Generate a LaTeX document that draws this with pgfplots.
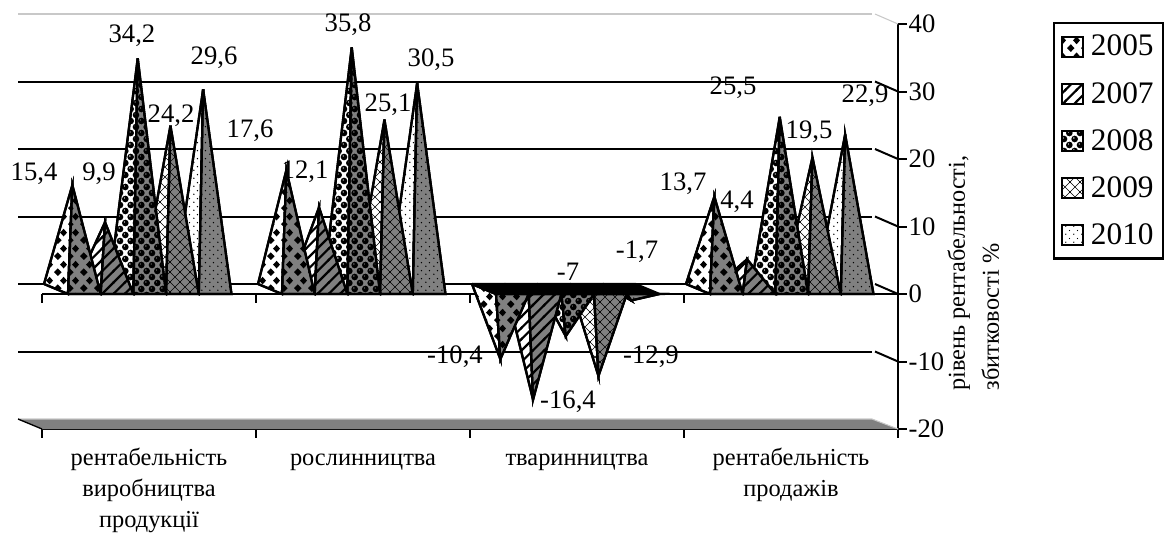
\documentclass[border=0pt]{standalone}
\usepackage{fontspec}
\setmainfont{Liberation Serif}
\usepackage{pgfplots}
\pgfplotsset{compat=1.18}
\usetikzlibrary{patterns}

% hatchings of the five years
\pgfdeclarepatternformonly{p2005}{\pgfqpoint{0pt}{0pt}}{\pgfqpoint{10pt}{12pt}}{\pgfqpoint{10pt}{12pt}}{%
  \pgfpathmoveto{\pgfqpoint{0pt}{3pt}}\pgfpathlineto{\pgfqpoint{2.9pt}{6pt}}\pgfpathlineto{\pgfqpoint{5.8pt}{3pt}}\pgfpathlineto{\pgfqpoint{2.9pt}{0pt}}\pgfpathclose
  \pgfpathmoveto{\pgfqpoint{4.6pt}{9pt}}\pgfpathlineto{\pgfqpoint{7.4pt}{12pt}}\pgfpathlineto{\pgfqpoint{10pt}{9pt}}\pgfpathlineto{\pgfqpoint{7.4pt}{6pt}}\pgfpathclose
  \pgfusepath{fill}}
\pgfdeclarepatternformonly{p2007}{\pgfqpoint{-1pt}{-1pt}}{\pgfqpoint{9.5pt}{9.5pt}}{\pgfqpoint{8.5pt}{8.5pt}}{%
  \pgfsetlinewidth{1.6pt}
  \pgfpathmoveto{\pgfqpoint{-1pt}{-1pt}}\pgfpathlineto{\pgfqpoint{9.5pt}{9.5pt}}\pgfusepath{stroke}}
\pgfdeclarepatternformonly{p2008}{\pgfqpoint{-1pt}{-1pt}}{\pgfqpoint{9pt}{10pt}}{\pgfqpoint{8pt}{9pt}}{%
  \pgfseteorule
  \pgfpathcircle{\pgfqpoint{2pt}{2.25pt}}{2.5pt}
  \pgfpathcircle{\pgfqpoint{1.4pt}{3pt}}{0.7pt}
  \pgfpathcircle{\pgfqpoint{6pt}{6.75pt}}{2.5pt}
  \pgfpathcircle{\pgfqpoint{5.4pt}{7.5pt}}{0.7pt}\pgfusepath{fill}}
\pgfdeclarepatternformonly{p2009}{\pgfqpoint{-0.5pt}{-0.5pt}}{\pgfqpoint{8pt}{8pt}}{\pgfqpoint{7.5pt}{7.5pt}}{%
  \pgfsetlinewidth{0.5pt}
  \pgfpathmoveto{\pgfqpoint{-0.5pt}{-0.5pt}}\pgfpathlineto{\pgfqpoint{8pt}{8pt}}
  \pgfpathmoveto{\pgfqpoint{-0.5pt}{8pt}}\pgfpathlineto{\pgfqpoint{8pt}{-0.5pt}}\pgfusepath{stroke}}
\pgfdeclarepatternformonly{p2010}{\pgfqpoint{0pt}{0pt}}{\pgfqpoint{6pt}{6pt}}{\pgfqpoint{6pt}{6pt}}{%
  \pgfpathcircle{\pgfqpoint{1.5pt}{1.5pt}}{0.6pt}
  \pgfpathcircle{\pgfqpoint{4.5pt}{4.5pt}}{0.6pt}\pgfusepath{fill}}

\definecolor{facegray}{HTML}{808080}
\definecolor{wallgray}{HTML}{C8C8C8}

% one pyramid: category, slot in the group, value, hatching
\newcommand{\pyr}[4]{%
  \pgfmathsetmacro\fl{#1+(26+32.7*#2)/214}%
  \pgfmathsetmacro\fr{\fl+32.7/214}%
  \pgfmathsetmacro\bl{\fl-24/214}%
  \pgfmathsetmacro\br{\fr-24/214}%
  \pgfmathsetmacro\ax{\fl+4.35/214}%
  \pgfmathsetmacro\ay{#3+5/6.75}%
  \addplot[edge,fill=white,postaction={pattern=#4}] coordinates {(\bl,1.48)(\fl,0)(\ax,\ay)(\bl,1.48)};
  \addplot[edge,fill=facegray,postaction={pattern=#4}] coordinates {(\fl,0)(\fr,0)(\ax,\ay)(\fl,0)};
}
% the black top of a pyramid that hangs below zero
\newcommand{\topface}[2]{%
  \pgfmathsetmacro\fl{#1+(26+32.7*#2)/214}%
  \pgfmathsetmacro\fr{\fl+32.7/214}%
  \pgfmathsetmacro\bl{\fl-24/214}%
  \pgfmathsetmacro\br{\fr-24/214}%
  \addplot[edge,fill=black] coordinates {(\bl,1.48)(\br,1.48)(\fr,0)(\fl,0)(\bl,1.48)};
}
% data label, placed by its centre in pixels of the reference
\newcommand{\lab}[3]{%
  \pgfmathsetmacro\lx{(#1-42)/214}%
  \pgfmathsetmacro\ly{(429-#2)/6.75-20}%
  \edef\tmp{\noexpand\node[font=\noexpand\fontsize{20}{20}\noexpand\selectfont,inner sep=0pt] at (axis cs:\lx,\ly) {#3};}\tmp
}
% gridline on the back wall and its slanted end on the side wall
\newcommand{\wall}[2]{%
  \pgfmathsetmacro\wy{#1+1.48}%
  \edef\tmp{\noexpand\draw[#2] (axis cs:-0.1121,\wy) -- (axis cs:3.8785,\wy);
    \noexpand\draw[#2] (axis cs:3.8925,\wy) -- (axis cs:4,#1);}\tmp
}

\begin{document}
\begin{tikzpicture}
\path[use as bounding box] (-31.5pt,-77.25pt) rectangle (846pt,321.75pt);
\begin{axis}[
  at={(0pt,0pt)}, anchor=south west,
  scale only axis, width=642pt, height=303.75pt,
  xmin=0, xmax=4, ymin=-20, ymax=40,
  clip=false,
  axis x line*=bottom, axis y line*=right,
  axis line style={line width=1.9pt},
  xtick={0,1,2,3,4},
  x tick label as interval=true,
  xticklabels={{рентабельність\\виробництва\\продукції},{\vphantom{б}рослинництва},{\vphantom{б}тваринництва},{рентабельність\\продажів}},
  xticklabel style={align=center,font=\fontsize{18.3}{23.3}\selectfont,yshift=-4pt},
  ytick={-20,-10,0,10,20,30,40},
  yticklabels={-20,-10,0,10,20,30,40},
  yticklabel style={font=\fontsize{20}{20}\selectfont,xshift=-2pt},
  tick align=outside, major tick length=6.5pt,
  tick style={black,line width=1.5pt},
  ylabel={рівень рентабельності,\\збитковості \%},
  ylabel style={font=\fontsize{18.2}{25.5}\selectfont,align=left,at={(axis description cs:1.088,0.385)},anchor=center,rotate=0},
  edge/.style={draw=black,line width=1.7pt,mark=none},
  legend style={at={(axis cs:4.725,40.3)},anchor=north west,draw=black,line width=1.7pt,
    font=\fontsize{23.5}{23.5}\selectfont,row sep=14.2pt,inner xsep=5pt,inner ysep=7pt,cells={anchor=west},/tikz/every odd column/.style={column sep=3.5pt}},
  legend cell align=left,
  legend image code/.code={\draw[#1,line width=1.5pt] (0pt,-7.5pt) rectangle (15.5pt,7.5pt);},
]
\addlegendimage{draw=black,fill=white,postaction={pattern=p2005}}\addlegendentry{2005}
\addlegendimage{draw=black,fill=white,postaction={pattern=p2007}}\addlegendentry{2007}
\addlegendimage{draw=black,fill=white,postaction={pattern=p2008}}\addlegendentry{2008}
\addlegendimage{draw=black,fill=white,postaction={pattern=p2009}}\addlegendentry{2009}
\addlegendimage{draw=black,fill=white,postaction={pattern=p2010}}\addlegendentry{2010}

% walls and floor
\addplot[fill=facegray,draw=none,mark=none] coordinates {(-0.1121,-18.52)(3.8785,-18.52)(4,-20)(0,-20)(-0.1121,-18.52)};
\addplot[draw=wallgray,line width=0.8pt,mark=none] coordinates {(-0.1121,-18.52)(3.8785,-18.52)(4,-20)};
\addplot[draw=black,line width=1pt,mark=none] coordinates {(-0.1121,-18.52)(0,-20)};
\wall{-10}{line width=1.5pt}
\wall{0}{line width=1.5pt}
\wall{10}{line width=1.5pt}
\wall{20}{line width=1.5pt}
\wall{30}{line width=1.5pt}
\wall{40}{draw=wallgray,line width=0.8pt}

% front zero line with its ticks
\addplot[draw=black,line width=1.7pt,mark=none] coordinates {(0,0)(4,0)};
\addplot[draw=black,line width=1.5pt,mark=none] coordinates {(0,0)(0,-1.3)};
\addplot[draw=black,line width=1.5pt,mark=none] coordinates {(1,0)(1,-1.3)};
\addplot[draw=black,line width=1.5pt,mark=none] coordinates {(2,0)(2,-1.3)};
\addplot[draw=black,line width=1.5pt,mark=none] coordinates {(3,0)(3,-1.3)};

% data labels lie under the pyramids
\lab{34}{174}{15,4}\lab{99}{174}{9,9}\lab{132}{36}{34,2}\lab{171}{116}{24,2}\lab{214}{58}{29,6}
\lab{250}{131}{17,6}\lab{305}{172}{12,1}\lab{348}{25}{35,8}\lab{388}{105}{25,1}\lab{431}{60}{30,5}
\lab{455}{357}{-10,4}\lab{568}{402}{-16,4}\lab{568}{272}{-7}\lab{651}{357}{-12,9}\lab{637}{252}{-1,7}
\lab{683}{184}{13,7}\lab{737}{202}{4,4}\lab{733}{88}{25,5}\lab{809}{132}{19,5}\lab{865}{96}{22,9}

% right to left: the nearer left pyramid covers its neighbour
\pyr{0}{4}{29.6}{p2010}\pyr{0}{3}{24.2}{p2009}\pyr{0}{2}{34.2}{p2008}\pyr{0}{1}{9.9}{p2007}\pyr{0}{0}{15.4}{p2005}
\pyr{1}{4}{30.5}{p2010}\pyr{1}{3}{25.1}{p2009}\pyr{1}{2}{35.8}{p2008}\pyr{1}{1}{12.1}{p2007}\pyr{1}{0}{17.6}{p2005}
\pyr{2}{4}{-1.7}{p2010}\pyr{2}{3}{-12.9}{p2009}\pyr{2}{2}{-7}{p2008}\pyr{2}{1}{-16.4}{p2007}\pyr{2}{0}{-10.4}{p2005}
\topface{2}{4}\topface{2}{3}\topface{2}{2}\topface{2}{1}\topface{2}{0}
\pyr{3}{4}{22.9}{p2010}\pyr{3}{3}{19.5}{p2009}\pyr{3}{2}{25.5}{p2008}\pyr{3}{1}{4.4}{p2007}\pyr{3}{0}{13.7}{p2005}
\end{axis}
\end{tikzpicture}
\end{document}
